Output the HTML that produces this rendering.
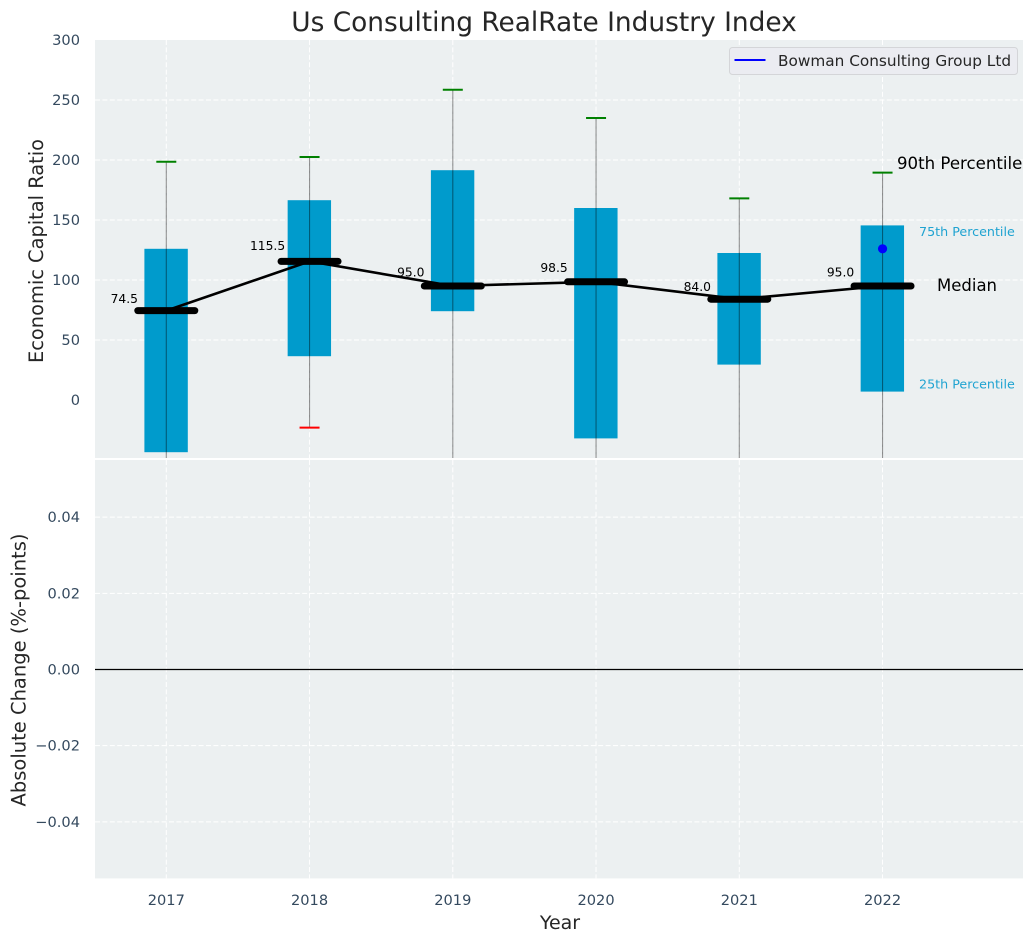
<!DOCTYPE html>
<html lang="en">
<head>
<meta charset="utf-8">
<title>Us Consulting RealRate Industry Index</title>
<style>
html,body{margin:0;padding:0;background:#fff;}
svg{display:block;font-family:"DejaVu Sans","Liberation Sans",sans-serif;}
</style>
</head>
<body>
<svg id="chart" xmlns="http://www.w3.org/2000/svg" width="1034" height="942" viewBox="0 0 1034 942"></svg>
<script>
const years = [2017, 2018, 2019, 2020, 2021, 2022];
const p90 = [198.5, 202.5, 258.5, 235, 168, 189.5];
const p75 = [126, 166.5, 191.5, 160, 122.5, 145.5];
const medians = [74.5, 115.5, 95, 98.5, 84, 95];
const medianLabels = ["74.5", "115.5", "95.0", "98.5", "84.0", "95.0"];
const p25 = [-43.5, 36.5, 74, -32, 29.5, 7];
const p10 = [-70, -23, -90, -110, -75, -80];
const companyYears = [2022];
const companyValues = [126];
const topTicks = [0, 50, 100, 150, 200, 250, 300];
const bottomTicks = [-0.04, -0.02, 0, 0.02, 0.04];
const bottomTickLabels = ["\u22120.04", "\u22120.02", "0.00", "0.02", "0.04"];

const NS = "http://www.w3.org/2000/svg";
const svg = document.getElementById("chart");
const plotLeft = 95, plotRight = 1023;
const topPanelTop = 40, topPanelBottom = 458.4;
const botPanelTop = 460, botPanelBottom = 878.4;
const tickColor = "#34495e", labelColor = "#262626";

function x(year) { return 166.3 + (year - 2017) * 143.25; }
function yTop(v) { return 400 - v * 1.2; }
function yBot(v) { return 669.5 - v * 3808; }

function make(tag, attrs, text, parent) {
  const el = document.createElementNS(NS, tag);
  for (const k in attrs) el.setAttribute(k, attrs[k]);
  if (text !== undefined && text !== null) el.textContent = text;
  (parent || svg).appendChild(el);
  return el;
}

let el;
const defs = make("defs", {});
const clip = make("clipPath", { id: "top-clip" }, null, defs);
make("rect", { x: plotLeft, y: topPanelTop, width: plotRight - plotLeft, height: topPanelBottom - topPanelTop }, null, clip);

el = make("rect", { x: plotLeft, y: topPanelTop, width: plotRight - plotLeft, height: topPanelBottom - topPanelTop, fill: "#ecf0f1" });


el = make("rect", { x: plotLeft, y: botPanelTop, width: plotRight - plotLeft, height: botPanelBottom - botPanelTop, fill: "#ecf0f1" });



const gridStyle = { stroke: "#ffffff", "stroke-width": 1, "stroke-dasharray": "5 2.4" };

topTicks.forEach(function (t) {
  if (t > 0 && t < 300) {
    el = make("line", Object.assign({ x1: plotLeft, x2: plotRight, y1: yTop(t), y2: yTop(t) }, gridStyle));
    
    
  }
  el = make("text", { x: 80, y: yTop(t) + 5, "text-anchor": "end", "font-size": 14.6, fill: tickColor }, String(t));
  
  
});

bottomTicks.forEach(function (t, i) {
  el = make("line", Object.assign({ x1: plotLeft, x2: plotRight, y1: yBot(t), y2: yBot(t) }, gridStyle));
  
  
  el = make("text", { x: 80, y: yBot(t) + 5, "text-anchor": "end", "font-size": 14.6, fill: tickColor }, bottomTickLabels[i]);
  
  
});

years.forEach(function (yr) {
  el = make("line", Object.assign({ x1: x(yr), x2: x(yr), y1: topPanelTop, y2: topPanelBottom }, gridStyle));
  
  
  el = make("line", Object.assign({ x1: x(yr), x2: x(yr), y1: botPanelTop, y2: botPanelBottom }, gridStyle));
  
  
  el = make("text", { x: x(yr), y: 905, "text-anchor": "middle", "font-size": 14.6, fill: tickColor }, String(yr));
  
  
});

el = make("line", { x1: plotLeft, x2: plotRight, y1: yBot(0), y2: yBot(0), stroke: "#000", "stroke-width": 1.3 });



const marks = make("g", { "clip-path": "url(#top-clip)" });



years.forEach(function (yr, i) {
  const cx = x(yr);
  el = make("rect", { x: cx - 21.9, y: yTop(p75[i]), width: 43.4, height: yTop(p25[i]) - yTop(p75[i]), fill: "#009bcc" }, null, marks);
  
  
  el = make("line", { x1: cx, x2: cx, y1: yTop(p90[i]), y2: yTop(p10[i]), stroke: "#000", "stroke-opacity": 0.42, "stroke-width": 1.1 }, null, marks);
  
  
  el = make("line", { x1: cx - 10, x2: cx + 10, y1: yTop(p90[i]), y2: yTop(p90[i]), stroke: "#008000", "stroke-width": 2 }, null, marks);
  
  
  el = make("line", { x1: cx - 10, x2: cx + 10, y1: yTop(p10[i]), y2: yTop(p10[i]), stroke: "#ff0000", "stroke-width": 2 }, null, marks);
  
  
});

el = make("polyline", {
  points: years.map(function (yr, i) { return x(yr) + "," + yTop(medians[i]); }).join(" "),
  fill: "none", stroke: "#000", "stroke-width": 2.6
}, null, marks);



years.forEach(function (yr, i) {
  const cx = x(yr);
  el = make("line", { x1: cx - 28.5, x2: cx + 28.5, y1: yTop(medians[i]), y2: yTop(medians[i]), stroke: "#000", "stroke-width": 7, "stroke-linecap": "round" }, null, marks);
  
  
  el = make("text", { x: cx - 42, y: yTop(medians[i] * 1.083), "text-anchor": "middle", "font-size": 12.3, fill: "#000" }, medianLabels[i]);
  
  
});

companyYears.forEach(function (yr, i) {
  el = make("circle", { cx: x(yr), cy: yTop(companyValues[i]), r: 4.6, fill: "#0000ff" }, null, marks);
  
  
});

el = make("rect", { x: plotLeft, y: 458, width: plotRight - plotLeft, height: 2, fill: "#ffffff" });



el = make("text", { x: 897, y: 169, "font-size": 16.6, fill: "#000" }, "90th Percentile");


el = make("text", { x: 919, y: 236, "font-size": 12.7, fill: "#1fa3d1" }, "75th Percentile");


el = make("text", { x: 937, y: 291, "font-size": 16.5, fill: "#000" }, "Median");


el = make("text", { x: 919, y: 388.5, "font-size": 12.7, fill: "#1fa3d1" }, "25th Percentile");



el = make("rect", { x: 729.5, y: 47.5, width: 288, height: 27, rx: 3, fill: "#ebecf1", stroke: "#d4d5d8", "stroke-width": 1 });


el = make("line", { x1: 734.5, x2: 765.5, y1: 60, y2: 60, stroke: "#0000ff", "stroke-width": 2 });


el = make("text", { x: 778, y: 66, "font-size": 15.3, fill: labelColor }, "Bowman Consulting Group Ltd");



el = make("text", { x: 544, y: 31, "text-anchor": "middle", "font-size": 26.4, fill: labelColor }, "Us Consulting RealRate Industry Index");


el = make("text", { transform: "translate(43,251) rotate(-90)", "text-anchor": "middle", "font-size": 19.4, fill: labelColor }, "Economic Capital Ratio");


el = make("text", { transform: "translate(25.5,670) rotate(-90)", "text-anchor": "middle", "font-size": 19.5, fill: labelColor }, "Absolute Change (%-points)");


el = make("text", { x: 560, y: 929, "text-anchor": "middle", "font-size": 19, fill: labelColor }, "Year");


</script>
</body>
</html>
